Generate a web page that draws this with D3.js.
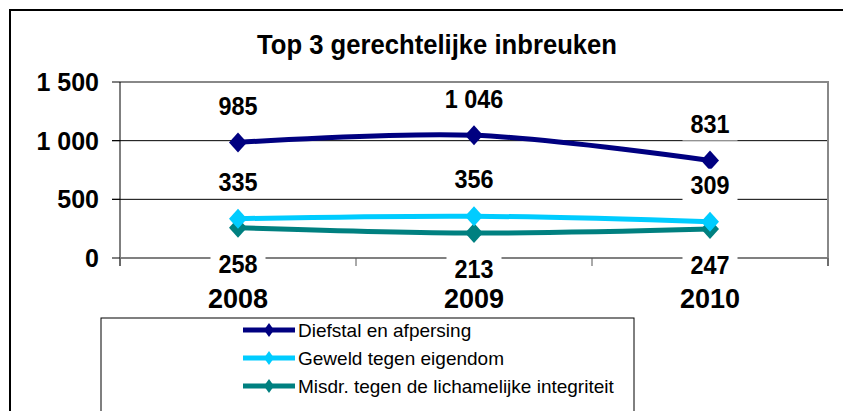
<!DOCTYPE html>
<html>
<head>
<meta charset="utf-8">
<script src="https://cdn.jsdelivr.net/npm/d3@7"></script>
<style>
  body { margin: 0; background: #fff; }
  text { font-family: "Liberation Sans", Arial, sans-serif; }
</style>
</head>
<body>
<div id="chart"></div>
<script>
// Data
var years = ["2008", "2009", "2010"];
var diefstal = [985, 1046, 831];
var geweld = [335, 356, 309];
var misdr = [258, 213, 247];
var seriesNames = ["Diefstal en afpersing", "Geweld tegen eigendom", "Misdr. tegen de lichamelijke integriteit"];
var yTicks = [0, 500, 1000, 1500];

var svgWidth = 843;
var svgHeight = 411;

var plot = { left: 120, right: 828, top: 82, bottom: 258 };

var svg = d3.select("#chart")
  .append("svg")
  .attr("width", svgWidth)
  .attr("height", svgHeight);

// outer chart border
svg.append("rect")
  .attr("x", 10)
  .attr("y", 10)
  .attr("width", 900)
  .attr("height", 500)
  .attr("fill", "none")
  .attr("stroke", "#000")
  .attr("stroke-width", 2);

// title
svg.append("text")
  .attr("transform", "translate(437,54) scale(0.95,1)")
  .attr("text-anchor", "middle")
  .attr("font-size", 27)
  .attr("font-weight", "bold")
  .text("Top 3 gerechtelijke inbreuken");

var xScale = d3.scaleBand()
  .domain(years)
  .range([plot.left, plot.right]);

var yScale = d3.scaleLinear()
  .domain([0, 1500])
  .range([plot.bottom, plot.top]);

var fmt = function(v) { return d3.format(",")(v).replace(/,/g, " "); };

// gridlines (and y tick marks)
svg.selectAll(".grid")
  .data([500, 1000])
  .enter()
  .append("line")
  .attr("x1", plot.left - 8)
  .attr("x2", plot.right)
  .attr("y1", d => yScale(d))
  .attr("y2", d => yScale(d))
  .attr("stroke", "#000")
  .attr("stroke-width", 1);

// plot top & right border
svg.append("path")
  .attr("d", `M${plot.left},${plot.top}H${plot.right}V${plot.bottom + 8}`)
  .attr("fill", "none")
  .attr("stroke", "#888")
  .attr("stroke-width", 2);

// y axis line and ticks
svg.append("line")
  .attr("x1", plot.left)
  .attr("x2", plot.left)
  .attr("y1", plot.top)
  .attr("y2", plot.bottom + 8)
  .attr("stroke", "#000")
  .attr("stroke-width", 1);

svg.selectAll(".ytick")
  .data(yTicks)
  .enter()
  .append("line")
  .attr("x1", plot.left - 8)
  .attr("x2", plot.left)
  .attr("y1", d => yScale(d))
  .attr("y2", d => yScale(d))
  .attr("stroke", "#000")
  .attr("stroke-width", 1);

// y axis labels
svg.selectAll(".ylab")
  .data(yTicks)
  .enter()
  .append("text")
  .attr("x", 99)
  .attr("y", d => yScale(d) + 9)
  .attr("text-anchor", "end")
  .attr("font-size", 25)
  .attr("font-weight", "bold")
  .text(d => fmt(d));

// x axis line with category ticks
svg.append("line")
  .attr("x1", plot.left)
  .attr("x2", plot.right)
  .attr("y1", plot.bottom)
  .attr("y2", plot.bottom)
  .attr("stroke", "#808080")
  .attr("stroke-width", 2);

var tickXs = years.map(d => xScale(d)).concat([plot.right]);
svg.selectAll(".xtick")
  .data(tickXs)
  .enter()
  .append("line")
  .attr("x1", d => d)
  .attr("x2", d => d)
  .attr("y1", plot.bottom)
  .attr("y2", plot.bottom + 8)
  .attr("stroke", "#555")
  .attr("stroke-width", 1);

var series = [
  { name: seriesNames[0], values: diefstal, color: "#000080", labelDy: -36 },
  { name: seriesNames[1], values: geweld, color: "#00CCFF", labelDy: -37 },
  { name: seriesNames[2], values: misdr, color: "#008080", labelDy: 36 }
];

var cx = (d, i) => xScale(years[i]) + xScale.bandwidth() / 2;

var line = d3.line()
  .x((d, i) => cx(d, i))
  .y(d => yScale(d))
  .curve(d3.curveCatmullRom.alpha(0.5));

var diamond = "M0,-10L9,0L0,10L-9,0Z";

// draw in reverse so navy is on top
series.slice().reverse().forEach(function(s) {
  svg.append("path")
    .attr("d", line(s.values))
    .attr("fill", "none")
    .attr("stroke", s.color)
    .attr("stroke-width", 5);

  svg.selectAll(null)
    .data(s.values)
    .enter()
    .append("path")
    .attr("d", diamond)
    .attr("transform", (d, i) => `translate(${cx(d, i)},${yScale(d)})`)
    .attr("fill", s.color);
});

// data labels with white background
series.forEach(function(s) {
  var g = svg.selectAll(null)
    .data(s.values)
    .enter()
    .append("g")
    .attr("transform", (d, i) => `translate(${cx(d, i)},${yScale(d) + s.labelDy})`);

  g.append("rect")
    .attr("x", d => -fmt(d).length * 6.5 - 8)
    .attr("y", -16)
    .attr("width", d => fmt(d).length * 13 + 16)
    .attr("height", 32)
    .attr("fill", "#fff");

  g.append("text")
    .attr("transform", "translate(0,9) scale(0.9,1)")
    .attr("text-anchor", "middle")
    .attr("font-size", 26)
    .attr("font-weight", "bold")
    .text(d => fmt(d));
});

// category labels
svg.selectAll(".xlab")
  .data(years)
  .enter()
  .append("text")
  .attr("x", d => xScale(d) + xScale.bandwidth() / 2)
  .attr("y", 308)
  .attr("text-anchor", "middle")
  .attr("font-size", 27)
  .attr("font-weight", "bold")
  .text(d => d);

// legend
var legend = svg.append("g");
legend.append("rect")
  .attr("x", 101)
  .attr("y", 318)
  .attr("width", 533)
  .attr("height", 120)
  .attr("fill", "#fff")
  .attr("stroke", "#000")
  .attr("stroke-width", 1);

var items = legend.selectAll(".item")
  .data(series)
  .enter()
  .append("g")
  .attr("transform", (d, i) => `translate(243,${330 + i * 28})`);

items.append("line")
  .attr("x1", 0)
  .attr("x2", 52)
  .attr("stroke", d => d.color)
  .attr("stroke-width", 5);

items.append("path")
  .attr("d", "M0,-7L5,0L0,7L-5,0Z")
  .attr("transform", "translate(26,0)")
  .attr("fill", d => d.color);

items.append("text")
  .attr("x", 55)
  .attr("y", 7)
  .attr("font-size", 19)
  .text(d => d.name);
</script>
</body>
</html>
